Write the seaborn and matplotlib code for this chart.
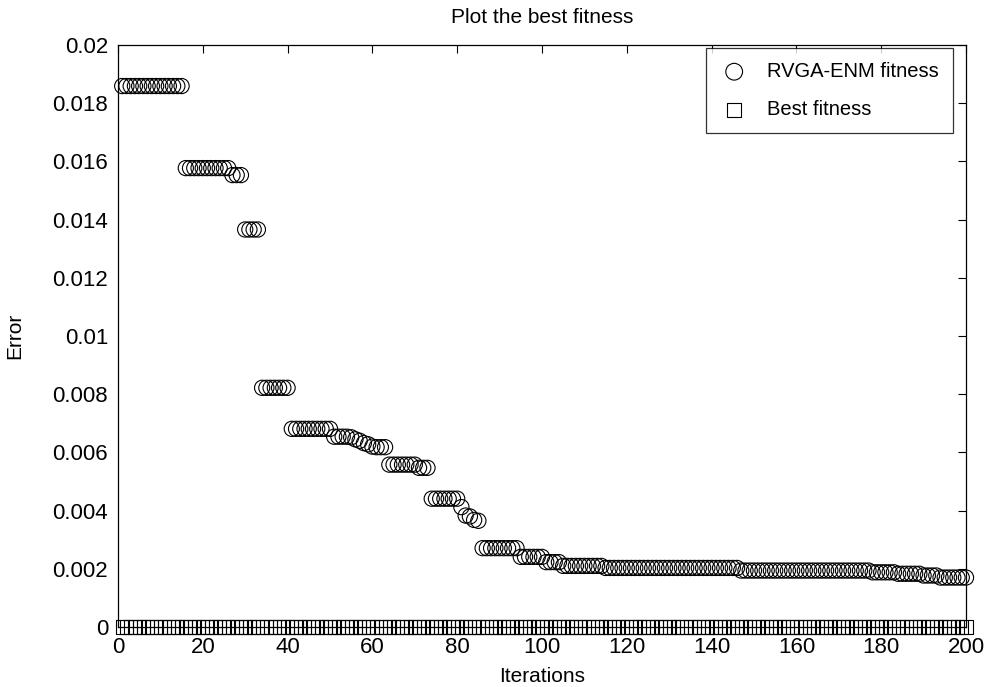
import numpy as np
import pandas as pd
import matplotlib
matplotlib.use("Agg")
import matplotlib.pyplot as plt
import seaborn as sns

# Iteration index and per-iteration best error of the RVGA-ENM run
iterations = list(range(1, 201))
rvga_enm_fitness = [
    0.01859, 0.01859, 0.01859, 0.01859, 0.01859, 0.01859, 0.01859, 0.01859, 0.01859, 0.01859,
    0.01859, 0.01859, 0.01859, 0.01859, 0.01859, 0.01577, 0.01577, 0.01577, 0.01577, 0.01577,
    0.01577, 0.01577, 0.01577, 0.01577, 0.01577, 0.01577, 0.01553, 0.01553, 0.01553, 0.01366,
    0.01366, 0.01366, 0.01366, 0.00822, 0.00822, 0.00822, 0.00822, 0.00822, 0.00822, 0.00822,
    0.00681, 0.00681, 0.00681, 0.00681, 0.00681, 0.00681, 0.00681, 0.00681, 0.00681, 0.00681,
    0.00654, 0.00654, 0.00654, 0.00654, 0.00652, 0.00645, 0.00640, 0.00632, 0.00628, 0.00620,
    0.00618, 0.00618, 0.00618, 0.00558, 0.00558, 0.00558, 0.00558, 0.00558, 0.00558, 0.00558,
    0.00547, 0.00547, 0.00547, 0.00441, 0.00441, 0.00441, 0.00441, 0.00441, 0.00441, 0.00441,
    0.00412, 0.00383, 0.00380, 0.00368, 0.00365, 0.00271, 0.00271, 0.00271, 0.00271, 0.00271,
    0.00271, 0.00271, 0.00271, 0.00271, 0.00241, 0.00241, 0.00241, 0.00241, 0.00241, 0.00241,
    0.00223, 0.00223, 0.00223, 0.00223, 0.00210, 0.00210, 0.00210, 0.00210, 0.00210, 0.00210,
    0.00210, 0.00210, 0.00210, 0.00210, 0.00203, 0.00203, 0.00203, 0.00203, 0.00203, 0.00203,
    0.00203, 0.00203, 0.00203, 0.00203, 0.00203, 0.00203, 0.00203, 0.00203, 0.00203, 0.00203,
    0.00203, 0.00203, 0.00203, 0.00203, 0.00203, 0.00203, 0.00203, 0.00203, 0.00203, 0.00203,
    0.00203, 0.00203, 0.00203, 0.00203, 0.00203, 0.00203, 0.00194, 0.00194, 0.00194, 0.00194,
    0.00194, 0.00194, 0.00194, 0.00194, 0.00194, 0.00194, 0.00194, 0.00194, 0.00194, 0.00194,
    0.00194, 0.00194, 0.00194, 0.00194, 0.00194, 0.00194, 0.00194, 0.00194, 0.00194, 0.00194,
    0.00194, 0.00194, 0.00194, 0.00194, 0.00194, 0.00194, 0.00194, 0.00188, 0.00188, 0.00188,
    0.00188, 0.00188, 0.00188, 0.00183, 0.00183, 0.00183, 0.00183, 0.00183, 0.00183, 0.00177,
    0.00177, 0.00177, 0.00177, 0.00170, 0.00170, 0.00170, 0.00170, 0.00170, 0.00170, 0.00170,
]
best_fitness = [0.0] * 200

x_ticks = [0, 20, 40, 60, 80, 100, 120, 140, 160, 180, 200]
y_ticks = [0, 0.002, 0.004, 0.006, 0.008, 0.01, 0.012, 0.014, 0.016, 0.018, 0.02]
y_tick_labels = ["0", "0.002", "0.004", "0.006", "0.008", "0.01",
                 "0.012", "0.014", "0.016", "0.018", "0.02"]

df = pd.DataFrame({
    "Iterations": iterations,
    "RVGA-ENM fitness": rvga_enm_fitness,
    "Best fitness": best_fitness,
})

sns.set_style("white")
plt.rcParams["font.family"] = ["Liberation Sans", "DejaVu Sans"]
plt.rcParams["font.size"] = 16
plt.rcParams["text.color"] = "black"
plt.rcParams["axes.labelcolor"] = "black"

fig = plt.figure(figsize=(9.93, 6.87), dpi=100)
ax = fig.add_axes([0.1188, 0.0873, 0.854, 0.8472])

sns.scatterplot(data=df, x="Iterations", y="RVGA-ENM fitness", ax=ax,
                marker="o", s=120, facecolors="none", edgecolor="black",
                linewidth=0.8, label="RVGA-ENM fitness", clip_on=False, zorder=3)
sns.scatterplot(data=df, x="Iterations", y="Best fitness", ax=ax,
                marker="s", s=90, facecolors="none", edgecolor="black",
                linewidth=0.8, label="Best fitness", clip_on=False, zorder=3)

ax.set_xlim(0, 200)
ax.set_ylim(0, 0.02)
ax.set_xticks(x_ticks)
ax.set_yticks(y_ticks)
ax.set_yticklabels(y_tick_labels)
ax.tick_params(axis="both", which="both", direction="in", length=6, width=0.8,
               top=True, right=True, labelsize=16, pad=7, colors="black")
for spine in ax.spines.values():
    spine.set_visible(True)
    spine.set_color("black")
    spine.set_linewidth(0.9)

ax.set_title("Plot the best fitness", fontsize=15, pad=16, color="black")
ax.set_xlabel("Iterations", fontsize=15, labelpad=7, color="black")
ax.set_ylabel("Error", fontsize=15, labelpad=20, color="black")

leg = ax.legend(loc="upper right", bbox_to_anchor=(0.985, 0.995), frameon=True,
                fancybox=False, edgecolor="black", fontsize=14.5, borderpad=0.7,
                handlelength=1.4, handletextpad=0.95, labelspacing=0.95,
                borderaxespad=0.0, markerscale=1.1)
leg.get_frame().set_linewidth(0.9)
for h in leg.legend_handles:
    h.set_facecolor("none")
    h.set_edgecolor("black")
for t in leg.get_texts():
    t.set_color("black")

fig.savefig("out.png", dpi=100)
